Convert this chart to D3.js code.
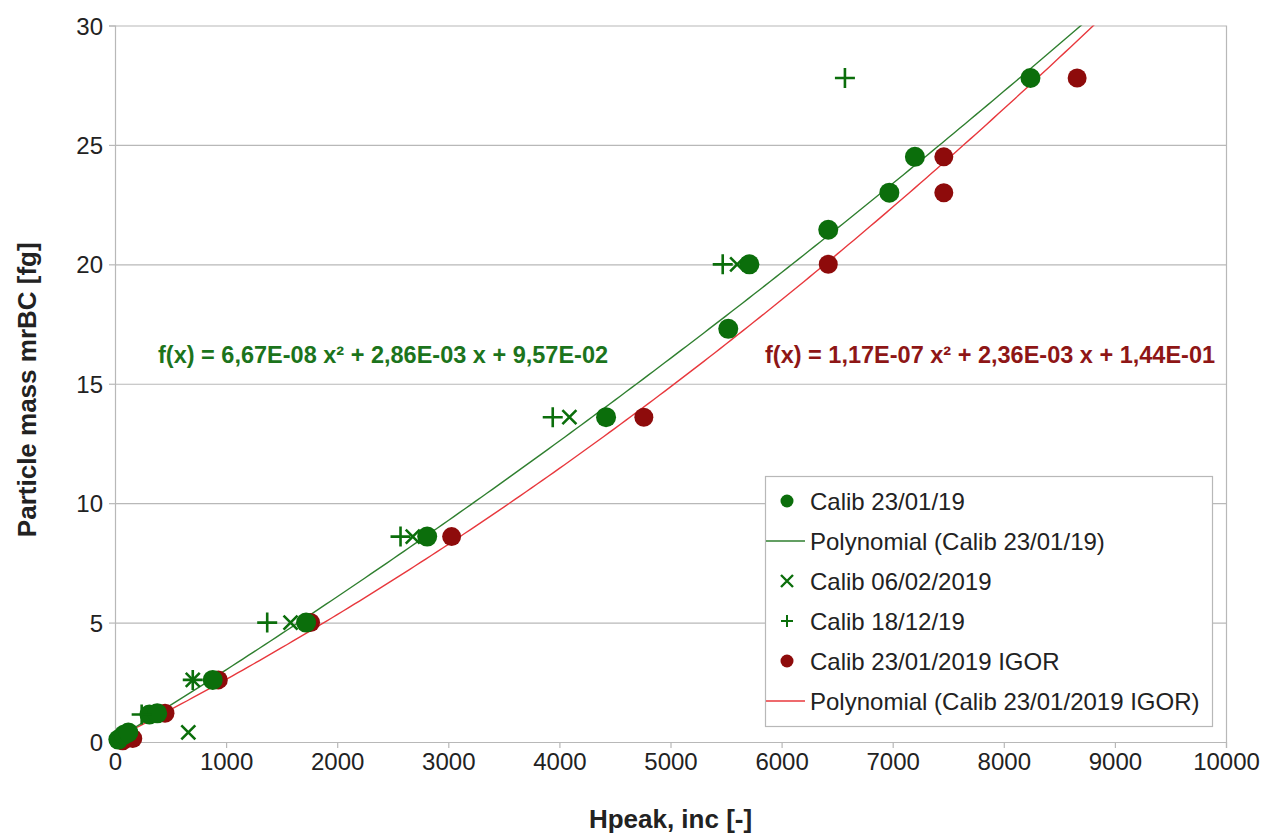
<!DOCTYPE html>
<html>
<head>
<meta charset="utf-8">
<script src="https://cdn.jsdelivr.net/npm/d3@7"></script>
<style>
  body { margin: 0; background: #fff; }
  text { font-family: "Liberation Sans", Arial, sans-serif; }
</style>
</head>
<body>
<div class="chart"></div>
<script>
// Calibration data
var calibJan = [
  [30, 0.1], [80, 0.3], [120, 0.4], [310, 1.15], [380, 1.2], [880, 2.6], [1720, 5.0],
  [2810, 8.6], [4420, 13.6], [5520, 17.3], [5710, 20.0], [6420, 21.45],
  [6970, 23.0], [7200, 24.5], [8240, 27.8]
];
var calibFeb = [
  [660, 0.4], [700, 2.6], [1580, 5.0], [2680, 8.6], [4090, 13.6], [5600, 20.0]
];
var calibDec = [
  [240, 1.15], [700, 2.6], [1370, 5.0], [2570, 8.6], [3940, 13.6], [5470, 20.0], [6570, 27.8]
];
var calibIgor = [
  [70, 0.05], [160, 0.15], [450, 1.2], [930, 2.6], [1760, 5.0], [3030, 8.6],
  [4760, 13.6], [6420, 20.0], [7460, 23.0], [7460, 24.5], [8660, 27.8]
];

// Polynomial trend coefficients [a, b, c] for a x² + b x + c
var polyJan = [6.67e-8, 2.86e-3, 9.57e-2];
var polyIgor = [1.17e-7, 2.36e-3, 1.44e-1];

var xTicks = [0, 1000, 2000, 3000, 4000, 5000, 6000, 7000, 8000, 9000, 10000];
var yTicks = [0, 5, 10, 15, 20, 25, 30];

var legendLabels = [
  "Calib 23/01/19",
  "Polynomial (Calib 23/01/19)",
  "Calib 06/02/2019",
  "Calib 18/12/19",
  "Calib 23/01/2019 IGOR",
  "Polynomial (Calib 23/01/2019 IGOR)"
];

var green = "#0b6e0b";
var greenLine = "#2f7f2f";
var darkRed = "#8e0b0b";
var redLine = "#e8383d";
var gridColor = "#b8b8b8";

var svgWidth = 1265;
var svgHeight = 835;
var margin = { top: 25.5, right: 39, bottom: 93, left: 115 };
var width = svgWidth - margin.left - margin.right;
var height = svgHeight - margin.top - margin.bottom;

var svg = d3.select(".chart")
  .append("svg")
  .attr("width", svgWidth)
  .attr("height", svgHeight);

var chart = svg.append("g")
  .attr("transform", "translate(" + margin.left + "," + margin.top + ")");

var xScale = d3.scaleLinear().domain([0, 10000]).range([0, width]);
var yScale = d3.scaleLinear().domain([0, 30]).range([height, 0]);

// grid lines
chart.selectAll(".grid")
  .data(yTicks)
  .enter().append("line")
  .attr("x1", 0)
  .attr("x2", width)
  .attr("y1", function(d) { return yScale(d) + 0.5; })
  .attr("y2", function(d) { return yScale(d) + 0.5; })
  .attr("stroke", gridColor)
  .attr("stroke-width", 1.2);

// right border
chart.append("line")
  .attr("x1", width + 0.5).attr("x2", width + 0.5)
  .attr("y1", 0).attr("y2", height)
  .attr("stroke", gridColor).attr("stroke-width", 1.2);

// axes
var bottomAxis = d3.axisBottom(xScale).tickValues(xTicks).tickSize(6).tickPadding(5)
  .tickFormat(d3.format("d"));
var leftAxis = d3.axisLeft(yScale).tickValues(yTicks).tickSize(6).tickPadding(6)
  .tickFormat(d3.format("d"));

var gx = chart.append("g")
  .attr("transform", "translate(0," + height + ")")
  .call(bottomAxis);
var gy = chart.append("g").call(leftAxis);

[gx, gy].forEach(function(g) {
  g.select(".domain").attr("stroke", gridColor).attr("stroke-width", 1.2);
  g.selectAll(".tick line").attr("stroke", gridColor).attr("stroke-width", 1.2);
  g.selectAll(".tick text")
    .attr("fill", "#222")
    .style("font-size", "24px")
    .style("font-family", "'Liberation Sans', Arial, sans-serif");
});
gy.selectAll(".tick text").attr("dy", "0.36em");

// axis titles
svg.append("text")
  .attr("x", margin.left + width / 2)
  .attr("y", 828)
  .attr("text-anchor", "middle")
  .attr("fill", "#222")
  .style("font-size", "26px")
  .style("font-weight", "bold")
  .text("Hpeak, inc [-]");

svg.append("text")
  .attr("transform", "translate(36," + (margin.top + height / 2 + 6) + ") rotate(-90)")
  .attr("text-anchor", "middle")
  .attr("fill", "#222")
  .style("font-size", "26px")
  .style("font-weight", "bold")
  .text("Particle mass mrBC [fg]");

// clip for trend lines
svg.append("defs").append("clipPath").attr("id", "plotClip")
  .append("rect").attr("x", 0).attr("y", 0).attr("width", width).attr("height", height);

function polyCurve(coef) {
  return xScale.ticks(200).map(function(x) {
    return [x, coef[0] * x * x + coef[1] * x + coef[2]];
  });
}

var line = d3.line()
  .x(function(d) { return xScale(d[0]); })
  .y(function(d) { return yScale(d[1]); });

var lines = chart.append("g").attr("clip-path", "url(#plotClip)");

// IGOR points and trend drawn first (under green)
lines.append("path")
  .datum(polyCurve(polyIgor))
  .attr("d", line)
  .attr("fill", "none")
  .attr("stroke", redLine)
  .attr("stroke-width", 1.4);

chart.selectAll(".igor")
  .data(calibIgor)
  .enter().append("circle")
  .attr("cx", function(d) { return xScale(d[0]); })
  .attr("cy", function(d) { return yScale(d[1]); })
  .attr("r", 9.5)
  .attr("fill", darkRed);

chart.selectAll(".jan")
  .data(calibJan)
  .enter().append("circle")
  .attr("cx", function(d) { return xScale(d[0]); })
  .attr("cy", function(d) { return yScale(d[1]); })
  .attr("r", 10)
  .attr("fill", green);

lines.append("path")
  .datum(polyCurve(polyJan))
  .attr("d", line)
  .attr("fill", "none")
  .attr("stroke", greenLine)
  .attr("stroke-width", 1.4);

// crosses (06/02/2019)
chart.selectAll(".feb")
  .data(calibFeb)
  .enter().append("path")
  .attr("transform", function(d) {
    return "translate(" + xScale(d[0]) + "," + yScale(d[1]) + ")";
  })
  .attr("d", "M-7,-7L7,7M-7,7L7,-7")
  .attr("stroke", green)
  .attr("stroke-width", 2.6)
  .attr("fill", "none");

// plus signs (18/12/19)
chart.selectAll(".dec")
  .data(calibDec)
  .enter().append("path")
  .attr("transform", function(d) {
    return "translate(" + xScale(d[0]) + "," + yScale(d[1]) + ")";
  })
  .attr("d", "M-10,0L10,0M0,-10L0,10")
  .attr("stroke", green)
  .attr("stroke-width", 2.6)
  .attr("fill", "none");

// trend equations
svg.append("text")
  .attr("x", 158)
  .attr("y", 363)
  .attr("fill", "#1c741c")
  .style("font-size", "23.5px")
  .style("font-weight", "bold")
  .text("f(x) = 6,67E-08 x² + 2,86E-03 x + 9,57E-02");

svg.append("text")
  .attr("x", 765)
  .attr("y", 363)
  .attr("fill", "#8e1616")
  .style("font-size", "23.5px")
  .style("font-weight", "bold")
  .text("f(x) = 1,17E-07 x² + 2,36E-03 x + 1,44E-01");

// legend
var legend = svg.append("g").attr("transform", "translate(765,476)");
legend.append("rect")
  .attr("x", 0.5).attr("y", 0.5)
  .attr("width", 447).attr("height", 250)
  .attr("fill", "#fff")
  .attr("stroke", gridColor)
  .attr("stroke-width", 1.2);

var items = legend.selectAll(".item")
  .data(legendLabels)
  .enter().append("g")
  .attr("transform", function(d, i) { return "translate(0," + (25 + i * 40) + ")"; });

items.append("text")
  .attr("x", 45)
  .attr("dy", "0.36em")
  .attr("fill", "#222")
  .style("font-size", "24px")
  .text(function(d) { return d; });

items.each(function(d, i) {
  var g = d3.select(this);
  if (i === 0 || i === 4) {
    g.append("circle").attr("cx", 22).attr("r", 6.5).attr("fill", i === 0 ? green : darkRed);
  } else if (i === 1 || i === 5) {
    g.append("line").attr("x1", 1).attr("x2", 40)
      .attr("stroke", i === 1 ? greenLine : redLine).attr("stroke-width", 1.4);
  } else if (i === 2) {
    g.append("path").attr("transform", "translate(22,0)")
      .attr("d", "M-6,-6L6,6M-6,6L6,-6").attr("stroke", green).attr("stroke-width", 2.4);
  } else {
    g.append("path").attr("transform", "translate(22,0)")
      .attr("d", "M-6,0L6,0M0,-6L0,6").attr("stroke", green).attr("stroke-width", 2);
  }
});
</script>
</body>
</html>
